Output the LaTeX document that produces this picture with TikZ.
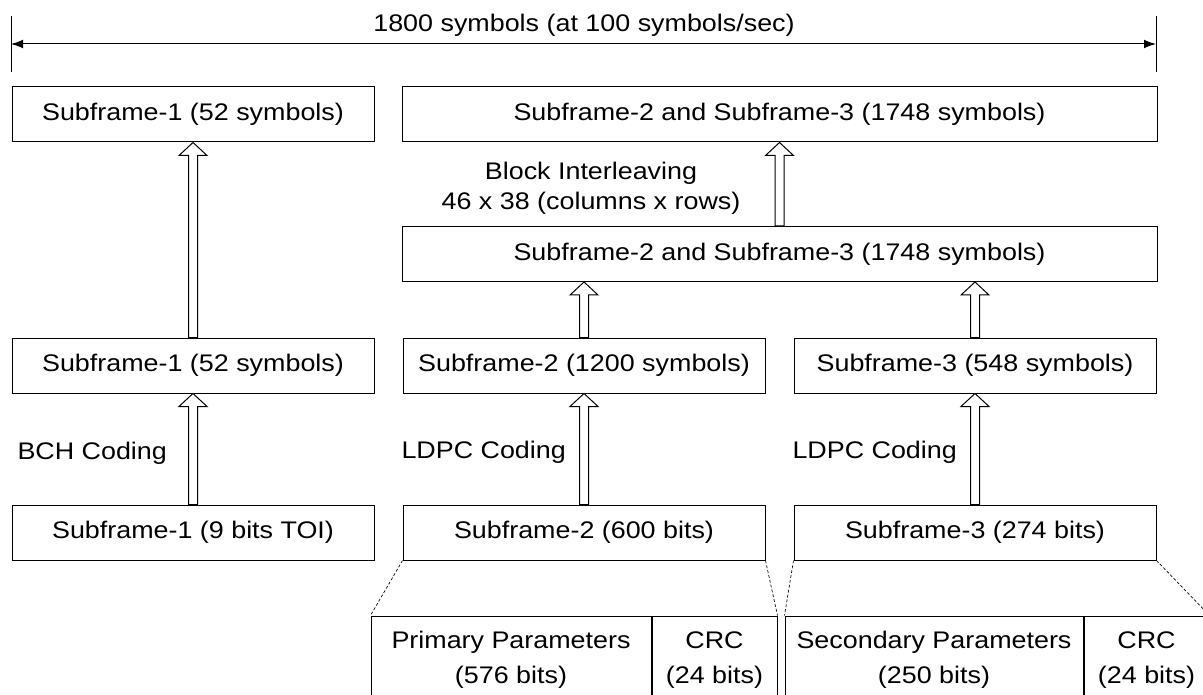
\documentclass[tikz,border=0pt]{standalone}
\usepackage{fontspec}
\setmainfont{Liberation Sans}[FakeStretch=1.12]
\usetikzlibrary{arrows.meta,calc,positioning}

\tikzset{every picture/.style={line width=0.75pt}}
\tikzset{
  frame/.style={draw, inner sep=0pt, minimum height=41.25pt, align=center},
  narrowbox/.style={frame, minimum width=271.5pt},
  widebox/.style={frame, minimum width=566.25pt},
  part/.style={draw, inner sep=0pt, minimum height=66pt, align=center,
    font=\fontsize{18}{26}\selectfont},
  txt/.style={inner sep=0pt},
  hollow/.style={draw, fill=white, line width=0.75pt, line join=miter},
  zoomline/.style={dash pattern={on 2.2pt off 1.5pt}, line width=0.5pt},
}
% hollow block arrow from #1 (tail) up to #2 (tip)
\newcommand{\hollowup}[2]{%
  \draw[hollow] ($(#1)+(-4.5,0)$) -- ($(#2)+(-4.5,13)$) -- ($(#2)+(-14,13)$) -- (#2)
    -- ($(#2)+(14,13)$) -- ($(#2)+(4.5,13)$) -- ($(#1)+(4.5,0)$) -- cycle;}

\begin{document}
\begin{tikzpicture}[x=0.75pt,y=0.75pt,yscale=-1,xscale=1,font=\fontsize{18}{22.5}\selectfont]
\useasboundingbox (0,0) rectangle (1203,695);

%Span of the whole frame
\coordinate (spanL) at (11,44);
\coordinate (spanR) at (1156,44);
\draw (11,16) -- (11,72);
\draw (1156,16) -- (1156,72);
\draw [{Latex[length=9pt,width=6.5pt]}-{Latex[length=9pt,width=6.5pt]}] (spanL) -- (spanR);
% Text Node
\node [txt, anchor=base] (span) at (584,32) {1800 symbols (at 100 symbols/sec)};

%Top row
\node [narrowbox] (A1) at (193,114.5) {Subframe-1 (52 symbols)};
\node [widebox] (B1) at (779.5,114.5) {Subframe-2 and Subframe-3 (1748 symbols)};

%Interleaver output
\node [widebox] (inter) at (779.5,254) {Subframe-2 and Subframe-3 (1748 symbols)};
\node [txt, align=center] (ilv) at (591,188) {Block Interleaving\\46 x 38 (columns x rows)};

%Coded subframes
\node [narrowbox] (A2) at (193,365.5) {Subframe-1 (52 symbols)};
\node [narrowbox] (B2) at (584,365.5) {Subframe-2 (1200 symbols)};
\node [narrowbox] (C2) at (975,365.5) {Subframe-3 (548 symbols)};

%Information bits
\node [narrowbox] (A3) at (193,532.5) {Subframe-1 (9 bits TOI)};
\node [narrowbox] (B3) at (584,532.5) {Subframe-2 (600 bits)};
\node [narrowbox] (C3) at (975,532.5) {Subframe-3 (274 bits)};

% Text Node
\node [txt, anchor=base west] (bch) at (17,459) {BCH Coding};
\node [txt, anchor=base west] (ldpc1) at (401,458) {LDPC Coding};
\node [txt, anchor=base west] (ldpc2) at (792,458) {LDPC Coding};

%Payload split
\node [part, minimum width=210pt] (prim) at (511,660) {Primary Parameters\\(576 bits)};
\node [part, minimum width=93.75pt, anchor=west] (crc1) at (prim.east) {CRC\\(24 bits)};
\node [part, minimum width=223.5pt] (sec) at (934,660) {Secondary Parameters\\(250 bits)};
\node [part, minimum width=93.75pt, anchor=west] (crc2) at (sec.east) {CRC\\(24 bits)};

\draw [zoomline] (B3.south west) -- (prim.north west);
\draw [zoomline] (B3.south east) -- (crc1.north east);
\draw [zoomline] (C3.south west) -- (sec.north west);
\draw [zoomline] (C3.south east) -- (crc2.north east);

%Block arrows
\coordinate (tipB) at (B2.north |- inter.south);
\coordinate (tipC) at (C2.north |- inter.south);
\hollowup{A3.north}{A2.south}
\hollowup{A2.north}{A1.south}
\hollowup{B3.north}{B2.south}
\hollowup{C3.north}{C2.south}
\hollowup{B2.north}{tipB}
\hollowup{C2.north}{tipC}
\hollowup{inter.north}{B1.south}

\end{tikzpicture}
\end{document}
